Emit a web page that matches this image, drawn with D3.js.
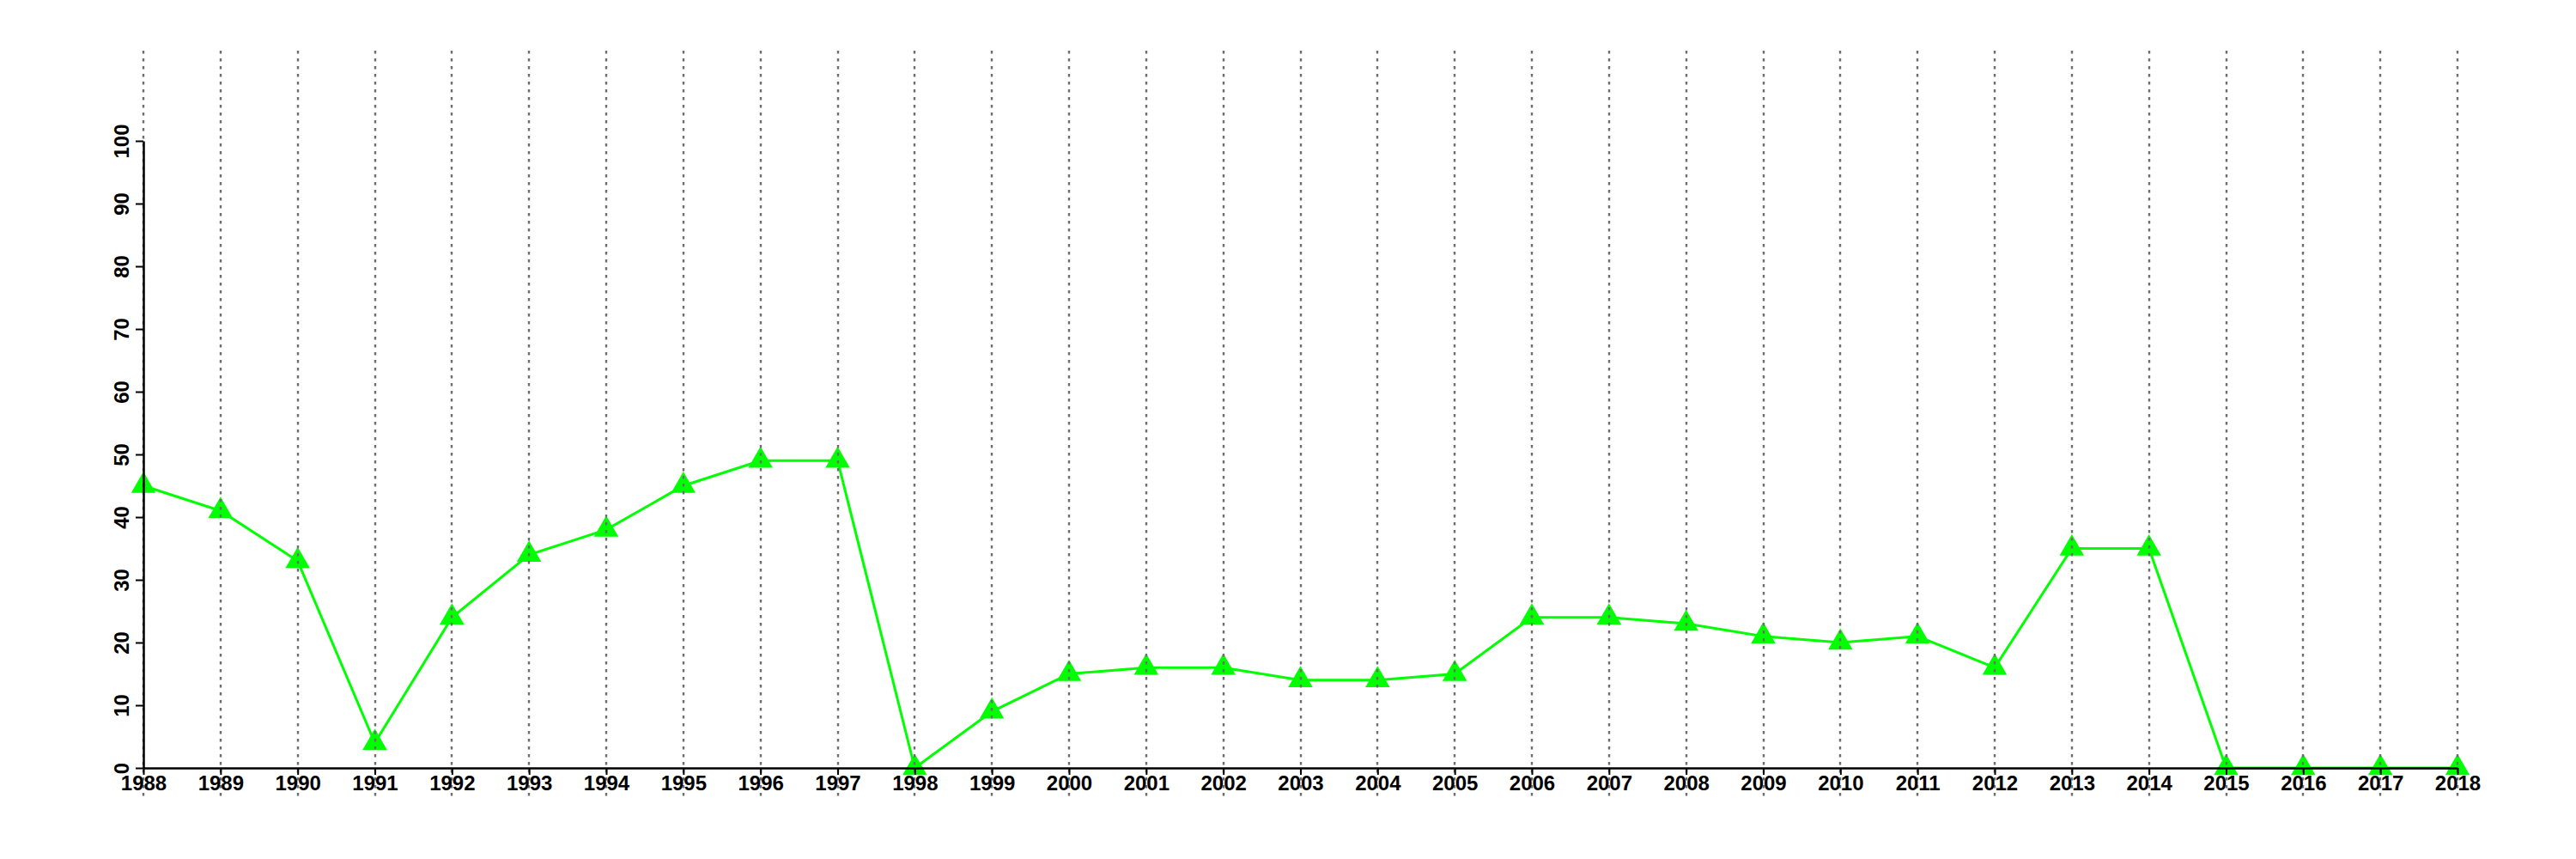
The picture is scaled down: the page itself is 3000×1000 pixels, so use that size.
<!DOCTYPE html>
<html>
<head>
<meta charset="utf-8">
<script src="https://cdn.jsdelivr.net/npm/d3@7"></script>
<style>
  html, body { margin: 0; padding: 0; background: #fff; }
  svg { display: block; }
  .axis text { font-family: "Liberation Sans", Arial, Helvetica, sans-serif; font-weight: bold; font-size: 24px; fill: #000; }
</style>
</head>
<body>
<script>
// ---- data ----
const years = [1988,1989,1990,1991,1992,1993,1994,1995,1996,1997,1998,1999,2000,2001,2002,2003,2004,2005,2006,2007,2008,2009,2010,2011,2012,2013,2014,2015,2016,2017,2018];
const values = [45,41,33,4,24,34,38,45,49,49,0,9,15,16,16,14,14,15,24,24,23,21,20,21,16,35,35,0,0,0,0];
const yTicks = [0,10,20,30,40,50,60,70,80,90,100];

const W = 3000, H = 1000;
const svg = d3.select("body").append("svg").attr("width", W).attr("height", H);
svg.append("rect").attr("width", W).attr("height", H).attr("fill", "#fff");

const x = d3.scaleLinear().domain([1988, 2018]).range([167, 2862]);
const y = d3.scaleLinear().domain([0, 100]).range([894, 164]);

// line
const line = d3.line().x((d, i) => x(years[i])).y(d => y(d));
svg.append("path")
  .datum(values)
  .attr("d", line)
  .attr("fill", "none")
  .attr("stroke", "#00ff00")
  .attr("stroke-width", 3);

// triangles
const sideLen = 28.5;
const tri = d3.symbol().type(d3.symbolTriangle).size(Math.pow(sideLen / (2 * Math.sqrt(3)), 2) * 3 * Math.sqrt(3));
svg.append("g").selectAll("path")
  .data(values)
  .join("path")
  .attr("d", tri)
  .attr("transform", (d, i) => `translate(${x(years[i])},${y(d)})`)
  .attr("fill", "#00ff00");

// vertical dotted grid lines
svg.append("g").selectAll("line")
  .data(years)
  .join("line")
  .attr("x1", d => Math.round(x(d))).attr("x2", d => Math.round(x(d)))
  .attr("y1", 59).attr("y2", 929)
  .attr("stroke", "#6e6e6e")
  .attr("stroke-width", 2.4)
  .attr("stroke-dasharray", "3.5,5.5");

// y axis
const gy = svg.append("g")
  .attr("class", "axis")
  .attr("transform", `translate(${x(1988)},0)`)
  .call(d3.axisLeft(y).tickValues(yTicks).tickSize(9).tickSizeOuter(0));
gy.select(".domain").attr("stroke", "#000").attr("stroke-width", 2.5);
gy.selectAll(".tick line").attr("stroke", "#000").attr("stroke-width", 2);
gy.selectAll(".tick text")
  .attr("transform", "rotate(-90)")
  .attr("x", 0).attr("y", -17).attr("dy", 0)
  .attr("text-anchor", "middle");

// x axis
const gx = svg.append("g")
  .attr("class", "axis")
  .attr("transform", `translate(0,${y(0)})`)
  .call(d3.axisBottom(x).tickValues(years).tickFormat(d3.format("d")).tickSize(8).tickSizeOuter(0));
gx.select(".domain").attr("stroke", "#000").attr("stroke-width", 2.5);
gx.selectAll(".tick line").attr("stroke", "#000").attr("stroke-width", 2);
gx.selectAll(".tick text").attr("y", 26).attr("dy", 0);
</script>
</body>
</html>
